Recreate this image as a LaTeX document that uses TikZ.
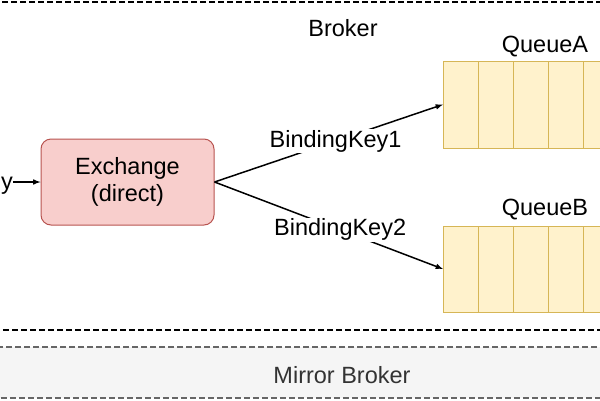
\documentclass[tikz,border=0pt]{standalone}
\usepackage{fontspec}
\setmainfont{Liberation Sans}
\usetikzlibrary{arrows}

\definecolor{exfill}{HTML}{F8CECC}
\definecolor{exline}{HTML}{B85450}
\definecolor{qfill}{HTML}{FFF2CC}
\definecolor{qline}{HTML}{D6B656}
\definecolor{mirfill}{HTML}{F5F5F5}
\definecolor{mirline}{HTML}{666666}

\begin{document}
\begin{tikzpicture}[x=1pt, y=-1pt, font=\fontsize{23.5}{27}\selectfont,
  brokerline/.style={line width=1.4pt, dash pattern=on 6pt off 3pt},
  cell/.style={draw=qline, fill=qfill, line width=1pt},
  keylabel/.style={fill=white, inner sep=1pt},
  conn/.style={line width=1.5pt, -latex}]

\useasboundingbox (0,0) rectangle (600,400);
\clip (0,0) rectangle (600,400);

% broker and mirror broker
\draw [brokerline, fill=white] (-20,2) rectangle (620,330);
\draw [brokerline, draw=mirline, fill=mirfill] (-20,347) rectangle (620,398);

\node (broker) at (343,28) {Broker};
\node [text=black!80] (mirror) at (342,375) {Mirror Broker};

% exchange
\node [draw=exline, fill=exfill, line width=1pt, rounded corners=10pt,
  minimum width=173pt, minimum height=86pt, align=center] (ex) at (127.5,182)
  {Exchange\\(direct)};

% queues
\foreach \i in {0,...,5} {
  \draw [cell] (443+35*\i,61) rectangle (478+35*\i,148);
  \draw [cell] (443+35*\i,226) rectangle (478+35*\i,312);
}
\coordinate (qa) at (443,104.5);
\coordinate (qb) at (443,269);
\node (qalabel) at (545,47) {QueueA};
\node (qblabel) at (545,210) {QueueB};

% routing
\node [anchor=east, inner sep=0pt] (rk) at (13,183) {RoutingKey};
\draw [conn] (rk.east |- ex.west) -- (ex.west);
\draw [conn] (ex.east) -- node [keylabel, pos=0.53] {BindingKey1} (qa);
\draw [conn] (ex.east) -- node [keylabel, pos=0.55] {BindingKey2} (qb);

\end{tikzpicture}
\end{document}
